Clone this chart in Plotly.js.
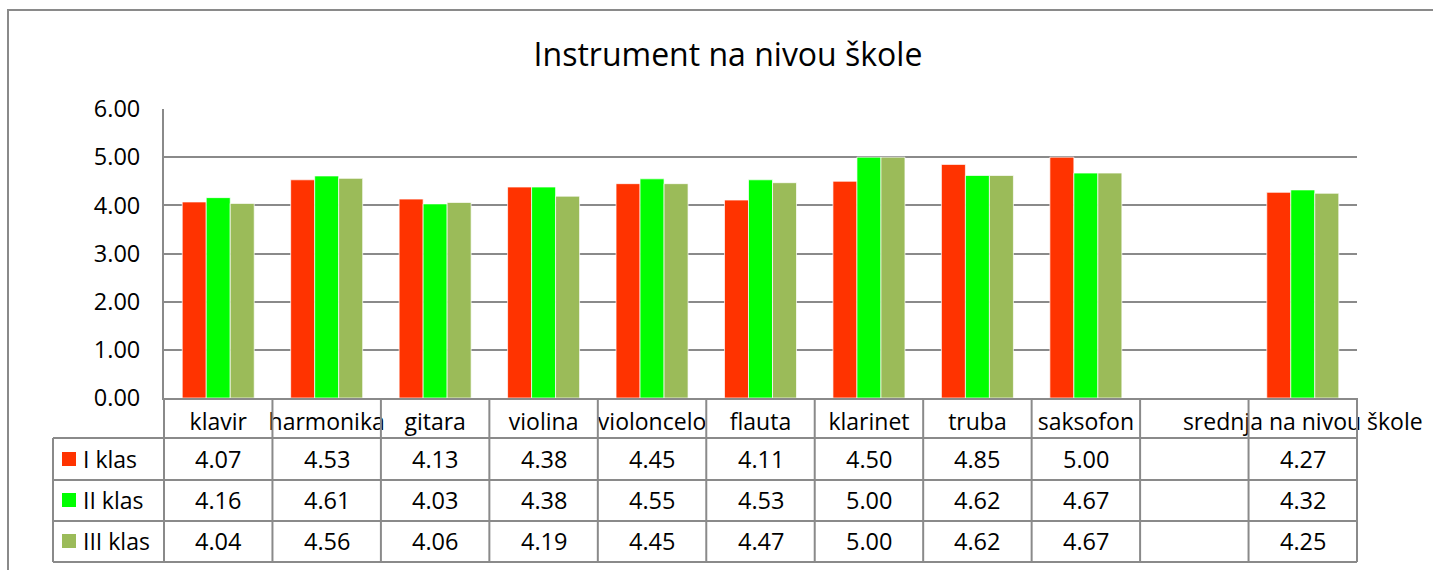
<!DOCTYPE html>
<html><head><meta charset="utf-8">
<script src="https://cdn.plot.ly/plotly-3.0.1.min.js"></script>
<style>html,body{margin:0;padding:0;background:#fff}#chart{width:1433px;height:570px}</style>
</head><body><div id="chart"></div>
<script>
const chartTitle = 'Instrument na nivou škole';
const categories = ['klavir','harmonika','gitara','violina','violoncelo','flauta','klarinet','truba','saksofon','','srednja na nivou škole'];
const seriesNames = ['I klas','II klas','III klas'];
const klasI   = [4.07, 4.53, 4.13, 4.38, 4.45, 4.11, 4.50, 4.85, 5.00, null, 4.27];
const klasII  = [4.16, 4.61, 4.03, 4.38, 4.55, 4.53, 5.00, 4.62, 4.67, null, 4.32];
const klasIII = [4.04, 4.56, 4.06, 4.19, 4.45, 4.47, 5.00, 4.62, 4.67, null, 4.25];
const yTicks = [0, 1, 2, 3, 4, 5, 6];

const seriesValues = [klasI, klasII, klasIII];
const colors = ['#FF3300', '#00FF00', '#9BBB59'];
const FONT = 'Open Sans, Noto Sans, sans-serif';
const lineCol = '#8a8a8a';

const W = 1433, H = 570, L = 164, R = 1357, T = 109, B = 398;
const pw = R - L, ph = B - T;
const px2x = p => (p - L) / pw;
const py2y = p => (B - p) / ph;
const n = categories.length;
const xs = categories.map((c, i) => i);

const traces = seriesValues.map((vals, s) => ({
  type: 'bar', name: seriesNames[s], x: xs, y: vals,
  marker: {color: colors[s], line: {color: 'rgba(255,255,255,0.7)', width: 1}},
  hoverinfo: 'y+name'
}));

const rowLines = [438, 480, 521, 562];
const rowCenters = [459, 500, 541];
const shapes = [];
// outer border
shapes.push({type: 'rect', xref: 'paper', yref: 'paper', x0: px2x(8), x1: px2x(1445), y0: py2y(10), y1: py2y(600),
  line: {color: lineCol, width: 2}, fillcolor: 'rgba(0,0,0,0)'});
// horizontal table lines
rowLines.forEach(py => shapes.push({type: 'line', xref: 'paper', yref: 'paper', x0: px2x(53), x1: 1, y0: py2y(py), y1: py2y(py), line: {color: lineCol, width: 2}}));
// vertical lines at category boundaries
for (let i = 0; i <= n; i++) {
  shapes.push({type: 'line', xref: 'paper', yref: 'paper', x0: i / n, x1: i / n, y0: 0, y1: py2y(562), line: {color: lineCol, width: 2}});
}
// legend column left line
shapes.push({type: 'line', xref: 'paper', yref: 'paper', x0: px2x(53), x1: px2x(53), y0: py2y(438), y1: py2y(562), line: {color: lineCol, width: 2}});
// legend squares
rowCenters.forEach((cy, s) => shapes.push({type: 'rect', xref: 'paper', yref: 'paper', x0: px2x(62), x1: px2x(76), y0: py2y(cy - 7), y1: py2y(cy + 7), line: {width: 0}, fillcolor: colors[s]}));

const annotations = [];
rowCenters.forEach((cy, s) => {
  annotations.push({xref: 'paper', yref: 'paper', x: px2x(81), y: py2y(cy), xanchor: 'left', yanchor: 'middle', text: seriesNames[s], showarrow: false, font: {family: FONT, size: 23, color: '#000'}});
  seriesValues[s].forEach((v, i) => {
    if (v === null) return;
    annotations.push({xref: 'x', yref: 'paper', x: i, y: py2y(cy), xanchor: 'center', yanchor: 'middle', text: v.toFixed(2), showarrow: false, font: {family: FONT, size: 23.5, color: '#000'}});
  });
});

const layout = {
  width: W, height: H,
  margin: {l: L, r: W - R, t: T, b: H - B, pad: 0},
  paper_bgcolor: '#fff', plot_bgcolor: '#fff',
  showlegend: false,
  barmode: 'group', bargap: 0.336, bargroupgap: 0,
  font: {family: FONT, color: '#000'},
  title: {text: chartTitle, xref: 'container', yref: 'container', x: 728 / W, y: 1 - 55 / H, xanchor: 'center', yanchor: 'middle', font: {family: FONT, size: 32, color: '#000'}},
  xaxis: {range: [-0.5, n - 0.5], tickmode: 'array', tickvals: xs, ticktext: categories, showgrid: false, zeroline: false,
    showline: true, linecolor: lineCol, linewidth: 2, ticks: '', ticklabelstandoff: 2, tickfont: {family: FONT, size: 23, color: '#000'}},
  yaxis: {range: [0, 6], tickmode: 'array', tickvals: yTicks, tickformat: '.2f', showgrid: true, gridcolor: lineCol, gridwidth: 2,
    zeroline: false, showline: true, linecolor: lineCol, linewidth: 2, ticks: '', ticklabelstandoff: 17, tickfont: {family: FONT, size: 23.5, color: '#000'}},
  shapes: shapes, annotations: annotations
};

Plotly.newPlot('chart', traces, layout, {displayModeBar: false, staticPlot: true});
</script>
</body></html>
